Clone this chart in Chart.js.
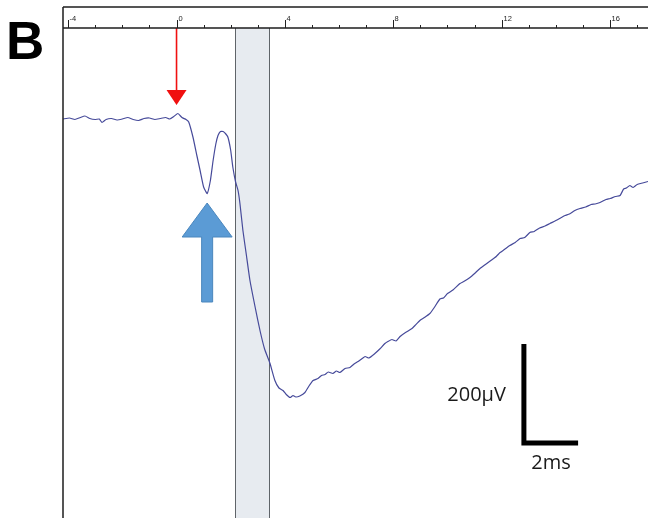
<!DOCTYPE html>
<html>
<head>
<meta charset="utf-8">
<script src="https://cdn.jsdelivr.net/npm/chart.js@4.4.1/dist/chart.umd.min.js"></script>
<style>
  html, body { margin: 0; padding: 0; background: #fff; }
  #wrap { width: 648px; height: 518px; position: relative; }
</style>
</head>
<body>
<div id="wrap"><canvas id="c" width="648" height="518"></canvas></div>
<script>
// recording, time in ms and potential in microvolts (baseline = 0)
var timeMs = [
  -4.19, -3.95, -3.75, -3.55, -3.38, -3.2, -3.0, -2.85, -2.75, -2.6, -2.4, -2.2, -2.0, -1.8, -1.6, -1.4,
  -1.2, -1.0, -0.8, -0.6, -0.4, -0.25, -0.1, 0.05, 0.2, 0.35, 0.45, 0.61, 0.75, 0.87, 1.0, 1.13,
  1.25, 1.35, 1.45, 1.53, 1.62, 1.72, 1.82, 1.9, 2.0, 2.08, 2.18, 2.27, 2.34, 2.45, 2.58, 2.71,
  2.9, 3.08, 3.25, 3.45, 3.63, 3.78, 3.93, 4.05, 4.19, 4.3, 4.4, 4.55, 4.74, 4.9, 5.04, 5.22,
  5.35, 5.48, 5.6, 5.77, 5.9, 6.03, 6.22, 6.4, 6.55, 6.7, 6.85, 6.96, 7.1, 7.32, 7.5, 7.69,
  7.8, 7.95, 8.1, 8.25, 8.45, 8.69, 8.8, 8.98, 9.15, 9.35, 9.5, 9.72, 9.85, 10.0, 10.2, 10.46,
  10.6, 10.83, 11.0, 11.2, 11.4, 11.6, 11.8, 11.94, 12.1, 12.3, 12.5, 12.68, 12.85, 13.04, 13.2, 13.4,
  13.6, 13.78, 14.0, 14.2, 14.34, 14.5, 14.7, 14.89, 15.1, 15.3, 15.45, 15.63, 15.85, 16.0, 16.2, 16.37,
  16.5, 16.6, 16.73, 16.85, 17.0, 17.2, 17.4
];
var voltageUv = [
  -2, 0, -3, 1, 4, -1, -3, -2, -9, -3, -1, -4, -2, 1, -3, -5,
  -1, 0, -3, -1, 1, -2, 3, 9, 1, -3, -8, -39, -75, -105, -138, -151,
  -125, -85, -52, -35, -27, -27, -32, -39, -65, -99, -128, -145, -171, -225, -275, -325,
  -378, -425, -462, -491, -525, -540, -545, -553, -559, -555, -558, -556, -549, -535, -525, -521,
  -515, -513, -508, -511, -506, -509, -501, -499, -492, -487, -481, -477, -480, -471, -462, -451,
  -447, -443, -446, -437, -429, -421, -415, -405, -399, -391, -380, -362, -360, -351, -344, -331,
  -327, -319, -311, -301, -293, -285, -277, -269, -263, -255, -249, -241, -239, -229, -227, -220,
  -216, -211, -205, -199, -195, -192, -185, -181, -178, -173, -172, -169, -163, -161, -157, -155,
  -142, -140, -135, -139, -133, -130, -127
];

// shaded window (ms)
var bandMs = [2.16, 3.41];

// top axis
var majorTicks = [-4, 0, 4, 8, 12, 16];
var tickLabels = ['-4', '0', '4', '8', '12', '16'];
var minorTicks = [-4, -3, -2, -1, 0, 1, 2, 3, 4, 5, 6, 7, 8, 9, 10, 11, 12, 13, 14, 15, 16, 17];

// markers: stimulus (red) and response (blue)
var stimArrow = [0, 26];       // ms, uV of arrow tip
var respArrow = [1.13, -170];  // ms, uV of arrow tip

// scale bar: 200 uV x 2 ms
var scaleBarTime = [12.82, 12.82, 14.82];
var scaleBarVolt = [-452, -650, -650];
var scaleBarLabels = ['200\u00b5V', '2ms'];

var trace = timeMs.map(function (t, i) { return { x: t, y: voltageUv[i] }; });
var scaleBar = scaleBarTime.map(function (t, i) { return { x: t, y: scaleBarVolt[i] }; });

var decor = {
  id: 'decor',
  beforeDatasetsDraw: function (chart) {
    var ctx = chart.ctx, x = chart.scales.x, a = chart.chartArea;
    var x0 = Math.round(x.getPixelForValue(bandMs[0])) + 0.5;
    var x1 = Math.round(x.getPixelForValue(bandMs[1])) + 0.5;
    ctx.save();
    ctx.fillStyle = '#e7ebf0';
    ctx.fillRect(x0, a.top, x1 - x0, a.bottom - a.top);
    ctx.strokeStyle = '#5f6469';
    ctx.lineWidth = 1;
    ctx.beginPath();
    ctx.moveTo(x0, a.top); ctx.lineTo(x0, a.bottom);
    ctx.moveTo(x1, a.top); ctx.lineTo(x1, a.bottom);
    ctx.stroke();
    ctx.restore();
  },
  afterDatasetsDraw: function (chart) {
    var ctx = chart.ctx, x = chart.scales.x, y = chart.scales.y, a = chart.chartArea;
    ctx.save();

    // red stimulus arrow
    var rx = x.getPixelForValue(stimArrow[0]);
    var ry = y.getPixelForValue(stimArrow[1]);
    ctx.strokeStyle = '#f01010';
    ctx.fillStyle = '#f01010';
    ctx.lineWidth = 1.6;
    ctx.beginPath();
    ctx.moveTo(rx, a.top); ctx.lineTo(rx, ry - 12);
    ctx.stroke();
    ctx.beginPath();
    ctx.moveTo(rx - 10, ry - 15); ctx.lineTo(rx + 10, ry - 15); ctx.lineTo(rx, ry);
    ctx.closePath();
    ctx.fill();

    // blue response arrow
    var bx = x.getPixelForValue(respArrow[0]);
    var by = y.getPixelForValue(respArrow[1]);
    ctx.fillStyle = '#5b9bd5';
    ctx.strokeStyle = '#4a86bd';
    ctx.lineWidth = 1;
    ctx.beginPath();
    ctx.moveTo(bx, by);
    ctx.lineTo(bx + 25, by + 34);
    ctx.lineTo(bx + 5.5, by + 34);
    ctx.lineTo(bx + 5.5, by + 99);
    ctx.lineTo(bx - 5.5, by + 99);
    ctx.lineTo(bx - 5.5, by + 34);
    ctx.lineTo(bx - 25, by + 34);
    ctx.closePath();
    ctx.fill();
    ctx.stroke();

    // scale bar labels
    var sx = x.getPixelForValue(scaleBarTime[0]);
    var sMid = y.getPixelForValue((scaleBarVolt[0] + scaleBarVolt[1]) / 2);
    var hx = x.getPixelForValue((scaleBarTime[1] + scaleBarTime[2]) / 2);
    var hy = y.getPixelForValue(scaleBarVolt[2]);
    ctx.fillStyle = '#1a1a1a';
    ctx.font = '20px "Open Sans", "Liberation Sans", sans-serif';
    ctx.textAlign = 'right';
    ctx.textBaseline = 'middle';
    ctx.fillText(scaleBarLabels[0], sx - 18, sMid + 2);
    ctx.textAlign = 'center';
    ctx.textBaseline = 'top';
    ctx.fillText(scaleBarLabels[1], hx, hy + 10);
    ctx.restore();
  },
  afterDraw: function (chart) {
    var ctx = chart.ctx, x = chart.scales.x, a = chart.chartArea;
    ctx.save();
    // frame: top border, axis line, left border
    ctx.strokeStyle = '#1e1e1e';
    ctx.lineWidth = 1.5;
    ctx.beginPath();
    ctx.moveTo(a.left, 7); ctx.lineTo(a.right, 7);
    ctx.moveTo(a.left, a.top); ctx.lineTo(a.right, a.top);
    ctx.moveTo(a.left, 7); ctx.lineTo(a.left, a.bottom);
    ctx.stroke();

    // ticks
    ctx.lineWidth = 1;
    ctx.strokeStyle = '#222';
    ctx.beginPath();
    minorTicks.forEach(function (t) {
      var px = Math.round(x.getPixelForValue(t)) + 0.5;
      ctx.moveTo(px, a.top); ctx.lineTo(px, a.top - 3);
    });
    majorTicks.forEach(function (t) {
      var px = Math.round(x.getPixelForValue(t)) + 0.5;
      ctx.moveTo(px, a.top); ctx.lineTo(px, a.top - 8);
    });
    ctx.stroke();

    ctx.fillStyle = '#222';
    ctx.font = '7.5px "Liberation Sans", sans-serif';
    ctx.textAlign = 'left';
    ctx.textBaseline = 'alphabetic';
    majorTicks.forEach(function (t, i) {
      var px = Math.round(x.getPixelForValue(t));
      ctx.fillText(tickLabels[i], px + 1.5, a.top - 7);
    });

    // panel letter
    ctx.fillStyle = '#000';
    ctx.font = 'bold 53px "Liberation Sans", Arial, sans-serif';
    ctx.textAlign = 'left';
    ctx.fillText('B', 6, 59);
    ctx.restore();
  }
};

new Chart(document.getElementById('c'), {
  type: 'line',
  data: {
    datasets: [
      {
        data: trace,
        borderColor: '#464a9a',
        borderWidth: 1.2,
        pointRadius: 0,
        tension: 0.15,
        fill: false
      },
      {
        data: scaleBar,
        borderColor: '#000',
        borderWidth: 5,
        pointRadius: 0,
        tension: 0,
        borderJoinStyle: 'miter',
        borderCapStyle: 'butt',
        fill: false
      }
    ]
  },
  options: {
    responsive: false,
    animation: false,
    events: [],
    layout: { padding: { left: 63, top: 28, right: 0, bottom: 0 } },
    plugins: { legend: { display: false }, tooltip: { enabled: false } },
    scales: {
      x: { type: 'linear', min: -4.19, max: 17.4, display: false },
      y: { type: 'linear', min: -800, max: 180, display: false }
    }
  },
  plugins: [decor]
});
</script>
</body>
</html>
